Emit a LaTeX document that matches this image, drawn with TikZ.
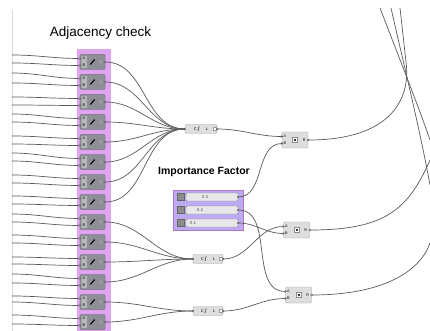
\documentclass[tikz,border=0pt]{standalone}
\usepackage{fontspec}
\setmainfont{Liberation Sans}

\definecolor{adjpink}{RGB}{222,164,238}
\definecolor{adjgray}{RGB}{142,142,152}
\definecolor{groupviolet}{RGB}{188,170,242}
\definecolor{wiregray}{RGB}{90,90,90}

\tikzset{
  wire/.style={wiregray, line width=0.7pt},
  adjbox/.style={draw=black!65, fill=adjgray, rounded corners=1.2pt,
    minimum width=25pt, minimum height=15pt, inner sep=0pt},
  compbox/.style={draw=black!35, fill=black!13, rounded corners=1.2pt, inner sep=0pt},
  mergebox/.style={compbox, minimum height=9pt, font=\fontsize{4}{5}\selectfont},
  pinlbl/.style={font=\fontsize{3.8}{4}\selectfont, inner sep=0pt},
  pindot/.style={circle, draw=black!70, fill=white, inner sep=0pt, minimum size=2pt},
  sliderbar/.style={draw=black!45, fill=black!9, rounded corners=1pt,
    minimum width=52pt, minimum height=8pt, inner sep=0pt},
  slidericon/.style={draw=black!60, fill=black!45, minimum size=7pt, inner sep=0pt},
}

\begin{document}
\begin{tikzpicture}[x=1pt,y=-1pt]
  \useasboundingbox (0,0) rectangle (430,331);
  \fill[white] (0,0) rectangle (430,331);
  % canvas edge
  \draw[black!15, line width=0.4pt] (12,10) -- (12,331);
  % column behind the adjacency components
  \fill[adjpink] (77,49) rectangle (111,331);
  \node[font=\fontsize{13.5}{16}\selectfont] (adjtitle) at (100.5,33) {Adjacency check};

  % merge components
  \node[mergebox, minimum width=32pt] (topmerge) at (201,129) {C\hspace{9pt}L\hspace{5pt}};
  \node[mergebox, minimum width=30pt] (midmerge) at (208,259) {C\hspace{9pt}L\hspace{5pt}};
  \node[mergebox, minimum width=30pt] (botmerge) at (208,311) {C\hspace{9pt}L\hspace{5pt}};
  \foreach \m in {topmerge,midmerge,botmerge}{
    \draw[black!75, line width=0.5pt] ([xshift=-3.5pt,yshift=-2pt]\m.center)
      .. controls ([xshift=-2pt,yshift=-3pt]\m.center) and ([xshift=-3pt,yshift=3pt]\m.center)
      .. ([xshift=-1.5pt,yshift=2.5pt]\m.center);
    \node[draw=black!40, fill=white, minimum size=3pt, inner sep=0pt]
      at ([xshift=-3pt]\m.east) {};
    \node[pindot] at (\m.west) {};
    \node[pindot] at (\m.east) {};
  }

  % multiplication components
  \node[compbox, minimum width=26pt, minimum height=16pt] (topmul) at (295,140) {};
  \node[compbox, minimum width=26pt, minimum height=16pt] (midmul) at (296.5,230) {};
  \node[compbox, minimum width=26pt, minimum height=16pt] (botmul) at (298.5,295) {};
  \foreach \m in {topmul,midmul,botmul}{
    \node[pinlbl] at ([xshift=3pt,yshift=3.5pt]\m.west) {A};
    \node[pinlbl] at ([xshift=3pt,yshift=-3.5pt]\m.west) {B};
    \node[pinlbl] at ([xshift=-4pt]\m.east) {R};
    \node[draw=black!45, fill=white, minimum size=5pt, inner sep=0pt] at (\m.center) {};
    \fill[black!80] ([xshift=-1pt,yshift=-1pt]\m.center) rectangle ([xshift=1pt,yshift=1pt]\m.center);
    \node[pindot] at ([yshift=3.5pt]\m.west) {};
    \node[pindot] at ([yshift=-3.5pt]\m.west) {};
    \node[pindot] at (\m.east) {};
  }

  % one adjacency component per row, with its two inputs
  \foreach \i/\da/\db in {1/-7/1, 2/-9/1, 3/-5/3, 4/-8/0, 5/-6/2, 6/-9/-1, 7/-7/1,
                          8/-6/2, 9/-8/0, 10/-7/1, 11/-5/2, 12/-8/1, 13/-6/0, 14/-7/2}{
    \pgfmathsetmacro\yc{62+20*(\i-1)}
    \node[adjbox] (adj\i) at (92.5,\yc) {};
    \coordinate (srcA\i) at (12,\yc+\da);
    \coordinate (srcB\i) at (12,\yc+\db);
    \draw[wire] (srcA\i) to[out=0,in=180] ([yshift=3.5pt]adj\i.west);
    \draw[wire] (srcB\i) to[out=0,in=180] ([yshift=-3.5pt]adj\i.west);
    \fill[black!28, rounded corners=0.8pt] ([xshift=1.5pt,yshift=6pt]adj\i.west)
      rectangle ([xshift=7pt,yshift=-6pt]adj\i.west);
    \node[pinlbl] at ([xshift=4.2pt,yshift=3.5pt]adj\i.west) {A};
    \node[pinlbl] at ([xshift=4.2pt,yshift=-3.5pt]adj\i.west) {B};
    \draw[line width=1.1pt, line cap=round] ([xshift=-2pt,yshift=-2.3pt]adj\i.center)
      -- ([xshift=2pt,yshift=2.3pt]adj\i.center);
    \node[pinlbl, text=black!12] at ([xshift=-3.8pt]adj\i.east) {L};
    \node[pindot] at ([yshift=3.5pt]adj\i.west) {};
    \node[pindot] at ([yshift=-3.5pt]adj\i.west) {};
    \node[pindot] at (adj\i.east) {};
  }

  % adjacency results into the merges
  \foreach \i in {1,...,8}
    \draw[wire] (adj\i.east) to[out=0,in=180] (topmerge.west);
  \foreach \i in {9,...,12}
    \draw[wire] (adj\i.east) to[out=0,in=180] (midmerge.west);
  \foreach \i in {13,14}
    \draw[wire] (adj\i.east) to[out=0,in=180] (botmerge.west);

  % importance factor sliders
  \node[font=\bfseries\fontsize{10.5}{12}\selectfont] (imptitle) at (204,172) {Importance Factor};
  \node[draw=violet!55, fill=groupviolet, minimum width=70pt, minimum height=40pt,
    inner sep=0pt] (impgroup) at (208,210) {};
  \foreach \k/\v/\tx/\yy in {1/0.3/205/197, 2/0.2/200/210, 3/0.1/193/223}{
    \node[slidericon] (sicon\k) at (180.5,\yy) {};
    \node[sliderbar] (slider\k) at (212,\yy) {};
    \node[font=\fontsize{4.5}{5}\selectfont, text=black!65, inner sep=0pt] at (\tx,\yy) {\v};
    \node[pindot] at (slider\k.east) {};
  }

  % factors and sums into the multiplications
  \draw[wire] (topmerge.east) to[out=0,in=180] ([yshift=3.5pt]topmul.west);
  \draw[wire] (slider1.east) to[out=0,in=180] ([yshift=-3.5pt]topmul.west);
  \draw[wire] (midmerge.east) to[out=0,in=180] ([yshift=3.5pt]midmul.west);
  \draw[wire] (slider3.east) to[out=0,in=180] ([yshift=-3.5pt]midmul.west);
  \draw[wire] (slider2.east) to[out=0,in=180] ([yshift=3.5pt]botmul.west);
  \draw[wire] (botmerge.east) to[out=0,in=180] ([yshift=-3.5pt]botmul.west);

  % products leaving the view
  \coordinate (exitA) at (400,8);
  \coordinate (exitB) at (391,8);
  \coordinate (exitC) at (380,8);
  \coordinate (edgeB) at (430,185);
  \coordinate (edgeC) at (430,140);
  \coordinate (edgeM) at (430,160);
  \coordinate (edgeN) at (430,243);
  \draw[wire] (topmul.east) .. controls (390,140) and (411,100) .. (406,62) -- (exitA);
  \draw[wire] (exitB) .. controls (405,70) and (420,130) .. (edgeB);
  \draw[wire] (exitC) .. controls (398,55) and (418,105) .. (edgeC);
  \draw[wire] (midmul.east) .. controls (385,230) and (408,210) .. (edgeM);
  \draw[wire] (botmul.east) .. controls (382,295) and (420,272) .. (edgeN);
\end{tikzpicture}
\end{document}
